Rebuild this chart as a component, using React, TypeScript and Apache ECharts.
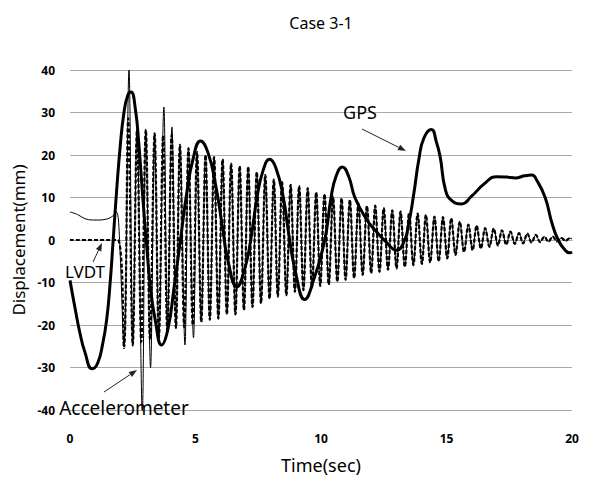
import React, { useEffect, useRef } from "react";
import * as echarts from "echarts";

// GPS (thick solid)
const gpsTimes = [0, 0.2, 0.4, 0.6, 0.88, 1.1, 1.3, 1.46, 1.6, 1.72, 1.85, 2.0, 2.15, 2.3, 2.43, 2.6, 2.75, 2.9, 3.05, 3.2, 3.4, 3.65, 3.9, 4.15, 4.4, 4.65, 4.9, 5.2, 5.5, 5.8, 6.05, 6.3, 6.65, 6.95, 7.2, 7.45, 7.7, 7.95, 8.2, 8.5, 8.7, 9.0, 9.35, 9.7, 10.15, 10.4, 10.6, 10.85, 11.1, 11.35, 11.8, 12.2, 12.6, 13.0, 13.3, 13.5, 13.7, 13.9, 14.1, 14.4, 14.6, 14.75, 14.95, 15.2, 15.6, 16.0, 16.5, 17.0, 17.4, 17.75, 18.1, 18.4, 18.6, 18.93, 19.2, 19.45, 19.7, 19.9, 20.0];
const gpsValues = [-9.5, -16, -22, -26.5, -30.3, -29, -24.5, -18.8, -10, 0, 11, 22, 30, 34, 34.8, 31, 22, 10, -1, -11, -19, -24.7, -21, -11, 0, 11, 19, 23.3, 20.5, 13, 4, -5, -11, -7, 0, 10, 16.5, 19, 17, 10, 2, -8, -14, -9.5, 0, 10, 15, 17.2, 15, 10, 5, 2, -0.5, -2.4, -0.5, 4, 11, 19, 24, 26, 23, 19.5, 12, 9.3, 8.5, 10.3, 13.2, 14.9, 14.8, 14.6, 15.1, 15.3, 14, 10, 4, 0, -2.2, -3, -2.8];

// Accelerometer (dashed): flat start, then peaks and troughs
const accelStartTimes = [0, 1.9];
const accelStartValues = [0, 0];
const accelPeakTimes = [2.32, 2.67, 3.02, 3.37, 3.71, 4.05, 4.38, 4.72, 5.06, 5.40, 5.74, 6.08, 6.42, 6.76, 7.10, 7.44, 7.78, 8.12, 8.45, 8.79, 9.13, 9.47, 9.81, 10.14, 10.48, 10.82, 11.15, 11.49, 11.83, 12.16, 12.50, 12.84, 13.17, 13.51, 13.85, 14.18, 14.52, 14.86, 15.19, 15.53, 15.87, 16.20, 16.54, 16.88, 17.21, 17.55, 17.89, 18.22, 18.56, 18.90, 19.23, 19.57, 19.90];
const accelPeaks = [28.6, 25.9, 25.9, 25.1, 24.6, 24.7, 22.4, 21.6, 20.7, 20, 19.5, 19, 18, 17.4, 17.2, 16, 15.3, 14.2, 13.6, 13, 12.7, 12.2, 11.2, 10.8, 10.2, 9.8, 9.4, 8.6, 8.0, 8.1, 7.5, 7.0, 6.7, 6.3, 6.2, 5.9, 5.5, 5.4, 5.1, 4.3, 3.6, 3.4, 2.8, 2.7, 2.3, 2.0, 1.6, 1.5, 1.2, 0.8, 0.8, 0.5, 0.4];
const accelTroughTimes = [2.15, 2.50, 2.84, 3.19, 3.54, 3.88, 4.22, 4.55, 4.89, 5.23, 5.57, 5.91, 6.25, 6.59, 6.93, 7.27, 7.61, 7.95, 8.28, 8.62, 8.96, 9.30, 9.64, 9.97, 10.31, 10.65, 10.98, 11.32, 11.66, 12.00, 12.33, 12.67, 13.01, 13.34, 13.68, 14.02, 14.35, 14.69, 15.03, 15.36, 15.70, 16.04, 16.37, 16.71, 17.05, 17.38, 17.72, 18.05, 18.39, 18.73, 19.06, 19.40, 19.74];
const accelTroughs = [-25.4, -24.7, -24, -23.5, -23, -21.5, -20.7, -20.5, -20, -19.3, -18.8, -18.5, -17.5, -17.5, -16.5, -15.8, -14.9, -13.8, -13.3, -13, -12.2, -11.8, -11.2, -10.8, -10.5, -9.8, -9.4, -9, -8.2, -7.8, -7.5, -7, -6.7, -6.3, -5.9, -5.6, -5.3, -5, -4.3, -3.5, -2.8, -2.4, -2, -1.6, -1.3, -1.1, -0.9, -0.8, -0.6, -0.5, -0.4, -0.3, -0.2];
const accelEnd = [20, 0.3];

// LVDT (thin solid): early part read separately; after ~5 s it lies on the accelerometer trace
const lvdtTimes = [0, 0.3, 0.6, 0.9, 1.2, 1.5, 1.7, 1.85, 1.95, 2.15, 2.35, 2.5, 2.67, 2.88, 3.02, 3.21, 3.37, 3.54, 3.74, 3.88, 4.06, 4.22, 4.38, 4.58, 4.72, 4.92];
const lvdtValues = [6.6, 6.0, 5.0, 4.7, 4.7, 5.0, 5.6, 6.6, 3, -25, 40, -25, 26, -40.7, 26, -30, 25, -23, 31.3, -21.5, 26.6, -20.7, 22.4, -24.7, 21.6, -23];
const lvdtJoinTime = 5.0;

const yTicks = { min: -40, max: 40, interval: 10 };
const xTicks = { min: 0, max: 20, interval: 5 };

const FONT = '"Noto Sans", "DejaVu Sans", sans-serif';

function pairs(ts: number[], vs: number[]) {
  return ts.map((t, i) => [t, vs[i]]);
}

function arrow(x1: number, y1: number, x2: number, y2: number) {
  const dx = x2 - x1, dy = y2 - y1;
  const len = Math.sqrt(dx * dx + dy * dy);
  const ux = dx / len, uy = dy / len;
  const px = -uy, py = ux;
  const L = 8, W = 3;
  const bx = x2 - ux * L, by = y2 - uy * L;
  return [
    { type: "line", shape: { x1, y1, x2: bx, y2: by }, style: { stroke: "#222", lineWidth: 1 }, z: 100 },
    {
      type: "polygon",
      shape: { points: [[x2, y2], [bx + px * W, by + py * W], [bx - px * W, by - py * W]] },
      style: { fill: "#222" },
      z: 100,
    },
  ];
}

export default function App() {
  const ref = useRef<HTMLDivElement>(null);
  useEffect(() => {
    document.body.style.margin = "0";
    if (!ref.current) return;
    const chart = echarts.init(ref.current, undefined, { renderer: "svg" });

    const gpsData = pairs(gpsTimes, gpsValues);
    const accelData = [
      ...pairs(accelStartTimes, accelStartValues),
      ...pairs(accelPeakTimes, accelPeaks),
      ...pairs(accelTroughTimes, accelTroughs),
      accelEnd,
    ].sort((a, b) => a[0] - b[0]);
    const lvdtData = [
      ...pairs(lvdtTimes, lvdtValues),
      ...accelData.filter((p) => p[0] > lvdtJoinTime),
    ];

    chart.setOption({
      animation: false,
      backgroundColor: "#fff",
      title: {
        text: "Case 3-1",
        left: 316,
        top: 10,
        textAlign: "center",
        textStyle: { fontFamily: FONT, fontSize: 16, fontWeight: "normal", color: "#000" },
      },
      grid: { left: 70, right: 17, top: 70, bottom: 74, containLabel: false },
      xAxis: {
        type: "value",
        min: xTicks.min,
        max: xTicks.max,
        interval: xTicks.interval,
        name: "Time(sec)",
        nameLocation: "middle",
        nameGap: 46,
        nameTextStyle: { fontFamily: FONT, fontSize: 18, color: "#000" },
        axisLine: { show: true, lineStyle: { color: "#a8a8a8", width: 1 } },
        axisTick: { show: false },
        splitLine: { show: false },
        axisLabel: { margin: 22, fontFamily: FONT, fontSize: 12, fontWeight: "bold", color: "#000" },
      },
      yAxis: {
        type: "value",
        min: yTicks.min,
        max: yTicks.max,
        interval: yTicks.interval,
        name: "Displacement(mm)",
        nameLocation: "middle",
        nameGap: 42,
        nameTextStyle: { fontFamily: FONT, fontSize: 17, color: "#000" },
        axisLine: { show: false },
        axisTick: { show: false },
        splitLine: { show: true, lineStyle: { color: "#a8a8a8", width: 1 } },
        axisLabel: { margin: 15, fontFamily: FONT, fontSize: 12, fontWeight: "bold", color: "#000" },
      },
      series: [
        {
          name: "LVDT",
          type: "line",
          data: lvdtData,
          showSymbol: false,
          smooth: 0.35,
          lineStyle: { color: "#000", width: 1 },
          z: 1,
        },
        {
          name: "Accelerometer",
          type: "line",
          data: accelData,
          showSymbol: false,
          smooth: 0.35,
          lineStyle: { color: "#000", width: 2.2, type: [4, 2] },
          z: 2,
        },
        {
          name: "GPS",
          type: "line",
          data: gpsData,
          showSymbol: false,
          smooth: 0.5,
          lineStyle: { color: "#000", width: 3 },
          z: 3,
        },
      ],
      graphic: [
        { type: "text", x: 360, y: 112, z: 100, style: { text: "GPS", font: `18px ${FONT}`, fill: "#000", align: "center", verticalAlign: "middle" } },
        ...arrow(362, 129, 406, 151),
        { type: "text", x: 85, y: 271, z: 100, style: { text: "LVDT", font: `17px ${FONT}`, fill: "#000", align: "center", verticalAlign: "middle", backgroundColor: "#fff" } },
        ...arrow(93, 262, 102, 243),
        { type: "text", x: 124, y: 408, z: 100, style: { text: "Accelerometer", font: `19px ${FONT}`, fill: "#000", align: "center", verticalAlign: "middle" } },
        ...arrow(104, 392, 137, 370),
      ],
    });
    return () => chart.dispose();
  }, []);
  return <div ref={ref} style={{ width: 589, height: 484 }} />;
}
